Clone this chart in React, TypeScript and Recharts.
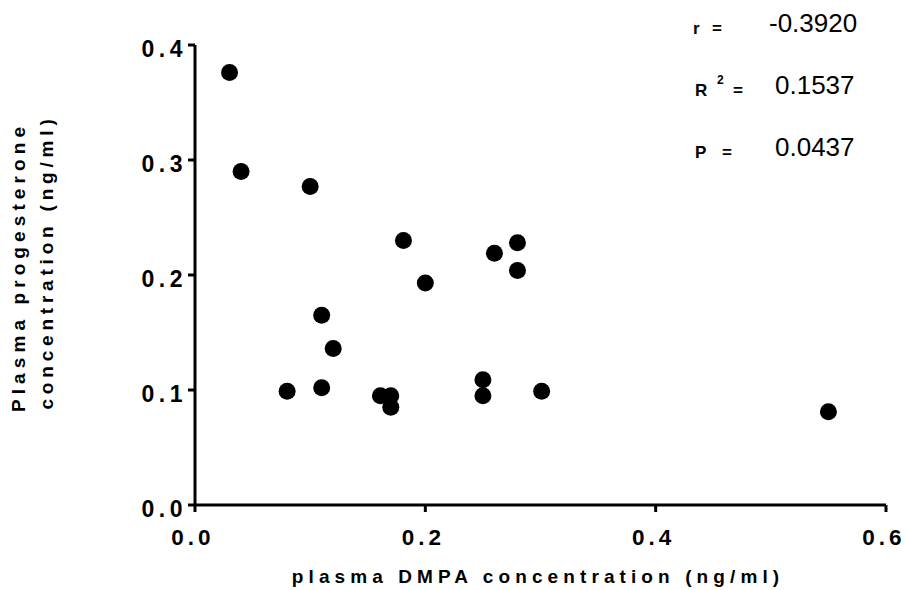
import { ScatterChart, Scatter, XAxis, YAxis } from "recharts";

const dmpa = [0.03, 0.04, 0.1, 0.181, 0.26, 0.28, 0.28, 0.2, 0.11, 0.12, 0.08, 0.11, 0.161, 0.17, 0.17, 0.25, 0.25, 0.301, 0.55];
const progesterone = [0.376, 0.29, 0.277, 0.23, 0.219, 0.228, 0.204, 0.193, 0.165, 0.136, 0.099, 0.102, 0.095, 0.095, 0.085, 0.109, 0.095, 0.099, 0.081];
const xTicks = [0, 0.2, 0.4, 0.6];
const yTicks = [0, 0.1, 0.2, 0.3, 0.4];
const stats = [
  { label: "r", sup: "", value: "-0.3920" },
  { label: "R", sup: "2", value: "0.1537" },
  { label: "P", sup: "", value: "0.0437" },
];

const points = dmpa.map((x, i) => ({ x, y: progesterone[i] }));

const FONT = "'Liberation Sans', Arial, sans-serif";

const XTick = (props: any) => {
  const { x, y, payload } = props;
  return (
    <text x={x - 2} y={y + 31} textAnchor="middle" fontFamily={FONT} fontWeight="bold" fontSize={22.5} letterSpacing={4} fill="#000">
      {payload.value.toFixed(1)}
    </text>
  );
};

const YTick = (props: any) => {
  const { x, y, payload } = props;
  return (
    <text x={x + 1} y={y + 12} textAnchor="end" fontFamily={FONT} fontWeight="bold" fontSize={23} letterSpacing={4.5} fill="#000">
      {payload.value.toFixed(1)}
    </text>
  );
};

const Dot = (props: any) => <circle cx={props.cx} cy={props.cy} r={8.5} fill="#000" />;

export default function App() {
  return (
    <div style={{ position: "absolute", left: 0, top: 0, width: 906, height: 590, background: "#fff" }}>
      <ScatterChart width={906} height={590} margin={{ top: 45, right: 20, bottom: 5, left: 95 }}>
        <XAxis
          type="number"
          dataKey="x"
          domain={[0, 0.6]}
          ticks={xTicks}
          height={80}
          axisLine={{ stroke: "#000", strokeWidth: 3 }}
          tickLine={{ stroke: "#000", strokeWidth: 3 }}
          tickSize={7}
          tick={XTick}
          interval={0}
        />
        <YAxis
          type="number"
          dataKey="y"
          domain={[0, 0.4]}
          ticks={yTicks}
          width={100}
          axisLine={{ stroke: "#000", strokeWidth: 3 }}
          tickLine={{ stroke: "#000", strokeWidth: 3 }}
          tickSize={7}
          tick={YTick}
          interval={0}
        />
        <Scatter data={points} fill="#000" shape={Dot} isAnimationActive={false} />
      </ScatterChart>
      <svg width={906} height={590} style={{ position: "absolute", left: 0, top: 0, pointerEvents: "none" }}>
        <g fontFamily={FONT} fill="#000">
          <text x={538} y={583} textAnchor="middle" fontWeight="bold" fontSize={19} letterSpacing={5.1}>
            plasma DMPA concentration (ng/ml)
          </text>
          <text transform="translate(25,267) rotate(-90)" textAnchor="middle" fontWeight="bold" fontSize={19} letterSpacing={5.1}>
            Plasma progesterone
          </text>
          <text transform="translate(53,262) rotate(-90)" textAnchor="middle" fontWeight="bold" fontSize={19} letterSpacing={4.8}>
            concentration (ng/ml)
          </text>
          {stats.map((s, i) => {
            const base = 34 + i * 62;
            return (
              <g key={s.label}>
                <text x={s.label === "r" ? 693 : 695} y={base} fontWeight="bold" fontSize={17}>
                  {s.label}
                </text>
                {s.sup && (
                  <text x={717} y={base - 12} fontWeight="bold" fontSize={12}>
                    {s.sup}
                  </text>
                )}
                <text x={s.label === "R" ? 733 : s.label === "P" ? 722 : 712} y={base} fontWeight="bold" fontSize={17}>
                  =
                </text>
                <text x={s.label === "r" ? 769 : 775} y={base - 2} fontSize={26}>
                  {s.value}
                </text>
              </g>
            );
          })}
        </g>
      </svg>
    </div>
  );
}
